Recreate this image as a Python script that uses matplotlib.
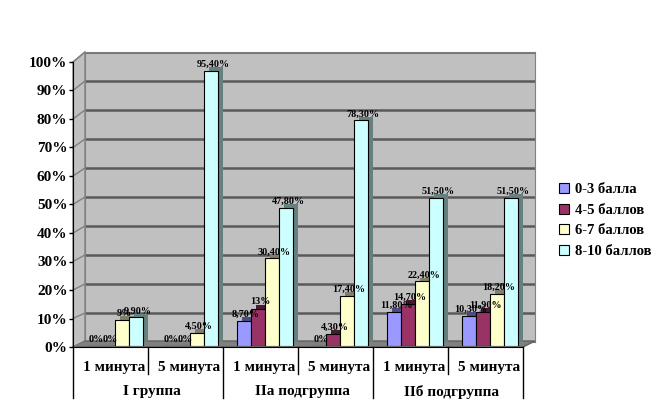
import matplotlib
matplotlib.use("Agg")
import matplotlib.pyplot as plt
import matplotlib.patheffects as pe
from matplotlib.patches import Patch, Polygon
from matplotlib.transforms import offset_copy
import numpy as np

# Данные
minutes = ["1 минута", "5 минута", "1 минута", "5 минута", "1 минута", "5 минута"]
groups = ["I группа", "IIа подгруппа", "IIб подгруппа"]
series = ["0-3 балла", "4-5 баллов", "6-7 баллов", "8-10 баллов"]
v_0_3 = [0, 0, 8.7, 0, 11.8, 10.3]
v_4_5 = [0, 0, 13, 4.3, 14.7, 11.9]
v_6_7 = [9, 4.5, 30.4, 17.4, 22.4, 18.2]
v_8_10 = [9.9, 95.4, 47.8, 78.3, 51.5, 51.5]
yticks = list(range(0, 101, 10))

face = ["#9999FF", "#993366", "#FFFFCC", "#CCFFFF"]
side = ["#4C4C80", "#4C1933", "#80806A", "#668080"]
FONT = "Liberation Serif"

W, H = 661, 420


def box(l, t, r, b):
    return [l / W, 1 - b / H, (r - l) / W, (b - t) / H]


fig = plt.figure(figsize=(W / 100, H / 100), dpi=100)

# задняя стенка
ax_wall = fig.add_axes(box(85, 52, 535, 342), zorder=0)
ax_wall.set_facecolor("#C0C0C0")
ax_wall.set_ylim(0, 100)
ax_wall.set_yticks(yticks)
ax_wall.set_xticks([])
ax_wall.tick_params(length=0, labelleft=False)
ax_wall.grid(axis="y", color="#5a5a5a", lw=1.8)
for s in ax_wall.spines.values():
    s.set_color("#808080")

# боковая стенка и пол (пиксельные координаты)
deco = fig.add_axes([0, 0, 1, 1], zorder=1)
deco.set_xlim(0, W)
deco.set_ylim(H, 0)
deco.axis("off")
deco.patch.set_alpha(0)
deco.add_patch(Polygon([(73, 62), (85, 52), (85, 342), (73, 347)],
                       facecolor="#C0C0C0", edgecolor="#808080", lw=1))
for t in yticks:
    yf = 347 - 285 * t / 100
    yb = 342 - 290 * t / 100
    deco.plot([73, 85], [yf, yb], color="#808080", lw=1)
deco.add_patch(Polygon([(73, 347), (523, 347), (535, 341), (85, 341)],
                       facecolor="#808080", edgecolor="#606060", lw=1))

# столбцы
ax = fig.add_axes(box(77.5, 58, 527.5, 346), zorder=2)
ax.patch.set_alpha(0)
ax.axis("off")
ax.set_xlim(-0.5, 5.5)
ax.set_ylim(0, 100)

x = np.arange(len(minutes))
bw = 14 / 75
for i, vals in enumerate([v_0_3, v_4_5, v_6_7, v_8_10]):
    xs = x - 2 * bw + bw / 2 + i * bw
    bars = ax.bar(xs, vals, bw, color=face[i], edgecolor="black", lw=0.8,
                  label=series[i])
    for b in bars:
        b.set_path_effects([pe.SimplePatchShadow(offset=(3.5, 2.8),
                                                 shadow_rgbFace=side[i],
                                                 alpha=1.0),
                            pe.Normal()])
    for xx, v in zip(xs, vals):
        if float(v).is_integer():
            txt = f"{int(v)}%"
        else:
            txt = f"{v:.2f}%".replace(".", ",")
        ax.annotate(txt, (xx, v), xytext=(1.5, 1.5), textcoords="offset points",
                    ha="center", va="bottom", fontsize=7.3, fontweight="bold",
                    family=FONT, color="black")

# передняя ось с подписями
ax_f = fig.add_axes(box(73, 62, 523, 347), zorder=3)
ax_f.patch.set_alpha(0)
ax_f.set_xlim(-0.5, 5.5)
ax_f.set_ylim(0, 100)
ax_f.set_yticks(yticks)
ax_f.set_yticklabels([f"{t}%" for t in yticks], fontsize=11, fontweight="bold",
                     family=FONT)
ax_f.tick_params(axis="y", length=3, pad=1, width=1)
ax_f.set_xticks([])
for s in ["top", "right"]:
    ax_f.spines[s].set_visible(False)
ax_f.spines["left"].set_color("black")
ax_f.spines["bottom"].set_color("black")

tr = ax_f.get_xaxis_transform()
tr_txt = offset_copy(tr, fig=fig, x=4, y=0, units="dots")
for k in range(len(minutes) + 1):
    ybot = -51 / 285 if k % 2 == 0 else -27 / 285
    ax_f.plot([k - 0.5, k - 0.5], [0, ybot], transform=tr, color="black",
              lw=1, clip_on=False)
for k, m in enumerate(minutes):
    ax_f.text(k, -21 / 285, m, transform=tr_txt, ha="center", va="center",
              fontsize=11, fontweight="bold", family=FONT)
for g, name in enumerate(groups):
    ax_f.text(2 * g + 0.5, -45 / 285, name, transform=tr_txt, ha="center",
              va="center", fontsize=11, fontweight="bold", family=FONT)

handles = [Patch(facecolor=face[i], edgecolor="black", lw=0.8)
           for i in range(len(series))]
fig.legend(handles, series, loc="upper left",
           bbox_to_anchor=(546 / W, 1 - 170 / H), frameon=False,
           handlelength=0.7, handleheight=0.7, handletextpad=0.4,
           labelspacing=0.5,
           prop={"family": FONT, "weight": "bold", "size": 10.5})

fig.savefig("out.png", dpi=100)
